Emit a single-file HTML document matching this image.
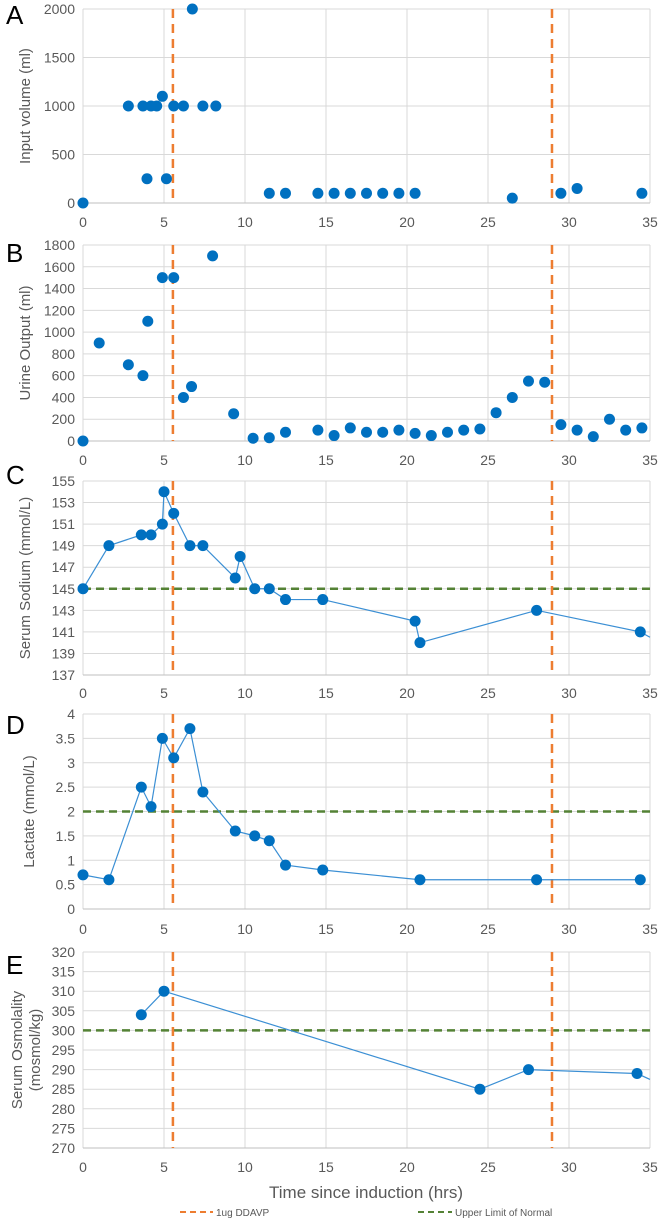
<!DOCTYPE html>
<html><head><meta charset="utf-8"><style>
body{margin:0;background:#fff;width:661px;height:1219px;overflow:hidden;font-family:"Liberation Sans",sans-serif}
svg text{font-family:"Liberation Sans",sans-serif}
</style></head><body>
<svg id="c" width="661" height="1219"></svg>
<script>
const aX=[0,2.8,3.7,4.2,4.55,4.9,5.6,6.2,7.4,8.2,6.75,3.95,5.15,11.5,12.5,14.5,15.5,16.5,17.5,18.5,19.5,20.5,26.5,29.5,30.5,34.5];
const aY=[0,1000,1000,1000,1000,1100,1000,1000,1000,1000,2000,250,250,100,100,100,100,100,100,100,100,100,50,100,150,100];
const bX=[0,1,2.8,3.7,4,4.9,5.6,6.2,6.7,8,9.3,10.5,11.5,12.5,14.5,15.5,16.5,17.5,18.5,19.5,20.5,21.5,22.5,23.5,24.5,25.5,26.5,27.5,28.5,29.5,30.5,31.5,32.5,33.5,34.5];
const bY=[0,900,700,600,1100,1500,1500,400,500,1700,250,25,30,80,100,50,120,80,80,100,70,50,80,100,110,260,400,550,540,150,100,40,200,100,120];
const cX=[0,1.6,3.6,4.2,4.9,5,5.6,6.6,7.4,9.4,9.7,10.6,11.5,12.5,14.8,20.5,20.8,28,34.4];
const cY=[145,149,150,150,151,154,152,149,149,146,148,145,145,144,144,142,140,143,141];
const dX=[0,1.6,3.6,4.2,4.9,5.6,6.6,7.4,9.4,10.6,11.5,12.5,14.8,20.8,28,34.4];
const dY=[0.7,0.6,2.5,2.1,3.5,3.1,3.7,2.4,1.6,1.5,1.4,0.9,0.8,0.6,0.6,0.6];
const eX=[3.6,5,24.5,27.5,34.2];
const eY=[304,310,285,290,289];
const xTicks=[0,5,10,15,20,25,30,35];
const ddavp=[5.55,28.95];
const NS='http://www.w3.org/2000/svg';
const svg=document.getElementById('c');
function mk(t,a,p){const e=document.createElementNS(NS,t);for(const k in a)e.setAttribute(k,a[k]);(p||svg).appendChild(e);return e;}
const L=83,R=650;
const sx=v=>L+(v-0)/35*(R-L);
const panels=[
 {id:'a',letter:'A',top:9,bot:203,min:0,max:2000,step:500,title:['Input volume (ml)'],tx:30,xs:aX,ys:aY,line:false,limit:null,xl:222,ly:12,dec:0},
 {id:'b',letter:'B',top:245,bot:441,min:0,max:1800,step:200,title:['Urine Output (ml)'],tx:30,xs:bX,ys:bY,line:false,limit:null,xl:460,ly:250,dec:0},
 {id:'c',letter:'C',top:481,bot:675,min:137,max:155,step:2,title:['Serum Sodium (mmol/L)'],tx:30,xs:cX,ys:cY,line:true,limit:145,xl:693,ly:472,dec:0,ext:140.5},
 {id:'d',letter:'D',top:714,bot:909,min:0,max:4,step:0.5,title:['Lactate (mmol/L)'],tx:34,xs:dX,ys:dY,line:true,limit:2,xl:929,ly:722,dec:1},
 {id:'e',letter:'E',top:952,bot:1148,min:270,max:320,step:5,title:['Serum Osmolality','(mosmol/kg)'],tx:22,xs:eX,ys:eY,line:true,limit:300,xl:1167,ly:962,dec:0,ext:287.5}
];
panels.forEach(p=>{
 const g=mk('g',{});
 
 
 const sy=v=>p.bot-(v-p.min)/(p.max-p.min)*(p.bot-p.top);
 for(let v=p.min;v<=p.max+1e-9;v+=p.step){
  const y=sy(v);
  const gl=mk('line',{x1:L,x2:R,y1:y,y2:y,stroke:'#d9d9d9','stroke-width':1},g);
  
  
  const t=mk('text',{x:L-8,y:y+5,'text-anchor':'end','font-size':14,fill:'#595959'},g);
  
  
  t.textContent=+v.toFixed(p.dec)+'';
 }
 xTicks.forEach(v=>{
  const x=sx(v);
  const gl=mk('line',{x1:x,x2:x,y1:p.top,y2:p.bot,stroke:'#d9d9d9','stroke-width':1},g);
  
  
  const t=mk('text',{x:x,y:p.xl+5,'text-anchor':'middle','font-size':14,fill:'#595959'},g);
  
  
  t.textContent=v;
 });
 const ax=mk('line',{x1:L,x2:R,y1:p.bot,y2:p.bot,stroke:'#bfbfbf','stroke-width':1},g);
 
 
 const lt=mk('text',{x:6,y:p.ly+12,'font-size':26,fill:'#000'},g);
 
 
 lt.textContent=p.letter;
 const cy=(p.top+p.bot)/2;
 p.title.forEach((s,i)=>{
  const tx=p.tx+i*18;
  const t=mk('text',{x:tx,y:cy,'text-anchor':'middle','font-size':15,fill:'#595959',transform:`rotate(-90 ${tx} ${cy})`},g);
  
  
  t.textContent=s;
 });
 if(p.limit!==null){
  const y=sy(p.limit);
  const ll=mk('line',{x1:L,x2:R,y1:y,y2:y,stroke:'#548235','stroke-width':2.5,'stroke-dasharray':'8,5'},g);
  
  
 }
 ddavp.forEach(v=>{
  const ol=mk('line',{x1:sx(v),x2:sx(v),y1:p.top,y2:p.bot,stroke:'#ED7D31','stroke-width':2.5,'stroke-dasharray':'9,6'},g);
  
  
 });
 if(p.line){
  let pts=[];
  for(let i=0;i<p.xs.length;i++)pts.push(sx(p.xs[i])+','+sy(p.ys[i]));
  if(p.ext!==undefined)pts.push(R+','+sy(p.ext));
  const pl=mk('polyline',{points:pts.join(' '),fill:'none',stroke:'#3b8fd4','stroke-width':1.2},g);
  
  
 }
 p.xs.forEach((x,i)=>{
  const c=mk('circle',{cx:sx(x),cy:sy(p.ys[i]),r:5.5,fill:'#0070C0'},g);
  
  
 });
});
const xt=mk('text',{x:366,y:1198,'text-anchor':'middle','font-size':17,fill:'#595959'});


xt.textContent='Time since induction (hrs)';
const l1=mk('line',{x1:180,x2:213,y1:1212,y2:1212,stroke:'#ED7D31','stroke-width':2,'stroke-dasharray':'6,4'});


const t1=mk('text',{x:216,y:1216,'font-size':10,fill:'#595959'});


t1.textContent='1ug DDAVP';
const l2=mk('line',{x1:418,x2:452,y1:1212,y2:1212,stroke:'#548235','stroke-width':2,'stroke-dasharray':'6,4'});


const t2=mk('text',{x:455,y:1216,'font-size':10,fill:'#595959'});


t2.textContent='Upper Limit of Normal';
</script>
</body></html>
